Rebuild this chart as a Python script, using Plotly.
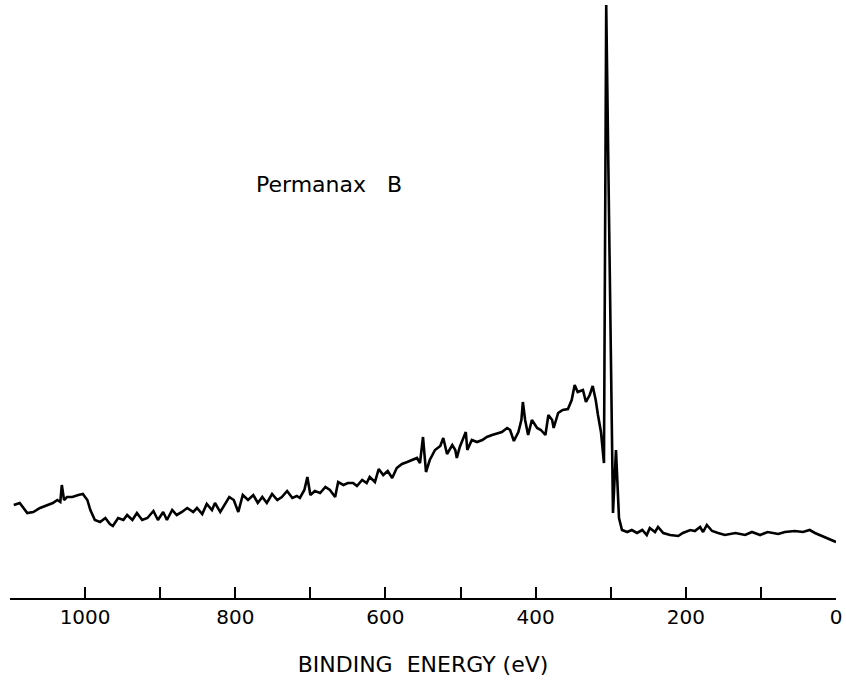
import plotly.graph_objects as go

# Binding energy (eV) and intensity (arbitrary units)
energy = [1095, 1087, 1077, 1069, 1060, 1051, 1043, 1037, 1033, 1031, 1028, 1024, 1017, 1009, 1003,
          997, 993, 987, 980, 973, 967, 963, 956, 949, 944, 937, 931, 924, 917, 909, 903, 896, 891,
          884, 878, 871, 864, 856, 851, 844, 838, 831, 827, 820, 814, 808, 802, 796, 790, 783, 776,
          770, 764, 758, 751, 744, 738, 731, 724, 718, 714, 708, 704, 700, 694, 687, 680, 674, 667,
          663, 656, 650, 643, 638, 631, 625, 621, 614, 609, 603, 597, 591, 585, 578, 571, 565, 558,
          554, 550, 546, 541, 534, 527, 523, 518, 511, 507, 505, 501, 493, 491, 485, 478, 471, 465,
          458, 451, 445, 438, 434, 429, 423, 419, 417, 414, 410, 405, 398, 393, 387, 383, 378, 376,
          370, 364, 357, 352, 348, 344, 337, 333, 328, 324, 320, 317, 313, 309, 306, 297, 293, 289,
          285, 278, 272, 265, 258, 252, 248, 241, 237, 230, 221, 210, 204, 194, 188, 181, 177, 172,
          165, 157, 148, 134, 121, 112, 101, 91, 77, 68, 55, 44, 35, 28, 15, 0]
intensity = [93, 95, 85, 86, 90, 93, 95, 98, 96, 113, 98, 101, 101, 103, 104,
             98, 88, 78, 76, 80, 74, 72, 80, 78, 83, 78, 85, 78, 80, 87, 78, 86, 78,
             88, 83, 86, 90, 86, 90, 84, 94, 88, 95, 86, 93, 101, 98, 86, 103, 98, 103,
             95, 101, 95, 104, 98, 101, 107, 100, 102, 100, 108, 121, 103, 107, 105, 111, 108, 101,
             116, 113, 115, 115, 112, 118, 115, 121, 116, 129, 123, 127, 120, 130, 134, 136, 138, 140,
             135, 161, 126, 138, 148, 152, 160, 144, 153, 148, 140, 151, 166, 148, 158, 156, 158, 161,
             163, 165, 166, 170, 168, 157, 166, 178, 196, 178, 163, 178, 170, 168, 163, 183, 178, 170,
             185, 188, 189, 198, 213, 206, 208, 196, 203, 212, 198, 183, 166, 135, 593, 85, 148, 80,
             68, 66, 68, 65, 68, 63, 70, 66, 71, 65, 63, 62, 65, 68, 67, 71, 66, 73,
             67, 65, 63, 65, 63, 66, 63, 66, 64, 66, 67, 66, 68, 65, 61, 56]

tick_values = [1100, 1000, 900, 800, 700, 600, 500, 400, 300, 200, 100, 0]
tick_labels = ["", "1000", "", "800", "", "600", "", "400", "", "200", "", "0"]

sample_label = "Permanax   B"
x_title = "BINDING  ENERGY (eV)"

FONT = "DejaVu Sans, sans-serif"

fig = go.Figure()
fig.add_trace(go.Scatter(
    x=energy, y=intensity, mode="lines",
    line=dict(color="black", width=2.6),
    showlegend=False, hoverinfo="skip",
))

fig.add_annotation(
    x=675, y=414, xref="x", yref="y", text=sample_label, showarrow=False,
    font=dict(family=FONT, size=22, color="black"),
)

fig.update_layout(
    width=846, height=687,
    margin=dict(l=10, r=10, t=0, b=89, autoexpand=False),
    paper_bgcolor="white", plot_bgcolor="white",
    font=dict(family=FONT, color="black"),
    xaxis=dict(
        range=[1100, 0], showgrid=False, zeroline=False, automargin=False,
        showline=True, linecolor="black", linewidth=1.5,
        ticks="inside", ticklen=11, tickwidth=1.5, tickcolor="black",
        tickvals=tick_values, ticktext=tick_labels,
        ticklabeloverflow="allow",
        tickfont=dict(family=FONT, size=20, color="black"),
        title=dict(text=x_title, font=dict(family=FONT, size=22, color="black"), standoff=29),
    ),
    yaxis=dict(range=[0, 598], visible=False, showgrid=False, zeroline=False),
)

# remove the default page margin so the 846x687 figure fills the window exactly
fig.write_html(
    "out.html",
    config={"displayModeBar": False},
    post_script="document.body.style.margin='0px';document.body.style.overflow='hidden';",
)
